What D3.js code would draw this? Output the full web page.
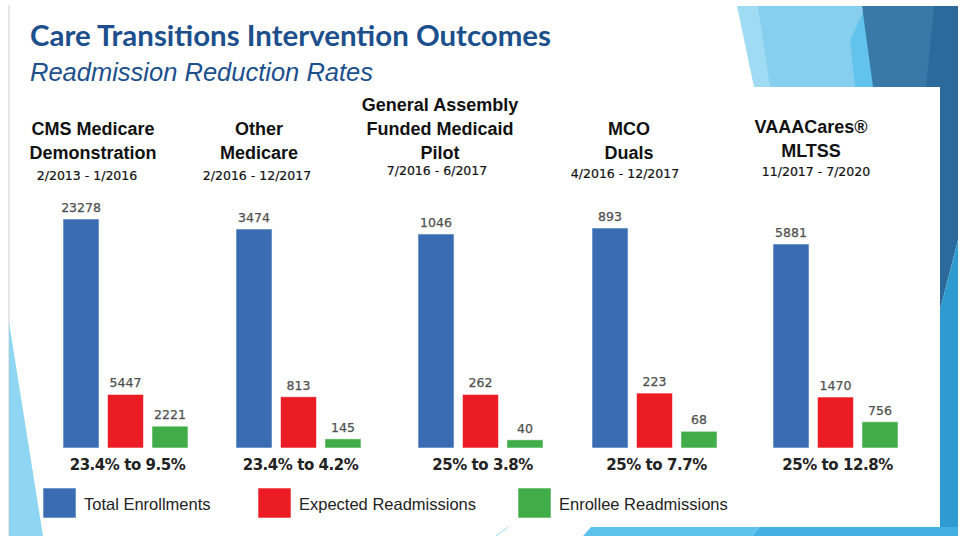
<!DOCTYPE html>
<html>
<head>
<meta charset="utf-8">
<script src="https://cdn.jsdelivr.net/npm/d3@7"></script>
<style>
    body { margin: 0; background: #fff; }
    svg { display: block; }
</style>
</head>
<body>
<div id="slide"></div>
<script>
// chart values
var titleLines = [
    ["CMS Medicare", "Demonstration"],
    ["Other", "Medicare"],
    ["General Assembly", "Funded Medicaid", "Pilot"],
    ["MCO", "Duals"],
    ["VAAACares\u00AE", "MLTSS"]
];
var periods = ["2/2013 - 1/2016", "2/2016 - 12/2017", "7/2016 - 6/2017", "4/2016 - 12/2017", "11/2017 - 7/2020"];
var series = ["Total Enrollments", "Expected Readmissions", "Enrollee Readmissions"];
var totalEnrollments = [23278, 3474, 1046, 893, 5881];
var expectedReadmissions = [5447, 813, 262, 223, 1470];
var enrolleeReadmissions = [2221, 145, 40, 68, 756];
var rateLabels = ["23.4% to 9.5%", "23.4% to 4.2%", "25% to 3.8%", "25% to 7.7%", "25% to 12.8%"];

// layout of the slide (each program has its own bar scale)
var groupLeft = [63, 236, 418, 592, 773];
var groupTop = [219, 229, 234, 228, 244];
var titleX = [93, 259, 440, 629, 811];
var titleY = [135, 135, 111, 135, 133];
var periodX = [87, 257, 437, 625, 816];
var periodY = [180, 180, 175, 178, 176];
var colors = ["#3a6cb4", "#ec1c24", "#40ad48"];

var svgWidth = 962;
var svgHeight = 536;
var baseline = 448;
var clusterWidth = 125;

var svg = d3.select("#slide")
    .append("svg")
    .attr("width", svgWidth)
    .attr("height", svgHeight);

// background decoration
var deco = svg.append("g");
deco.append("line")
    .attr("x1", 9).attr("y1", 5).attr("x2", 9).attr("y2", 536)
    .attr("stroke", "#cfcfcf").attr("stroke-width", 1);

var shapes = [
    { fill: "#9fdbf3", pts: [[737, 6], [762, 6], [777, 87], [754, 87]] },
    { fill: "#87cfee", pts: [[758, 6], [862, 6], [872, 87], [770, 87]] },
    { fill: "#62c4ec", pts: [[850, 40], [866, 6], [874, 87], [855, 87]] },
    { fill: "#3879a8", pts: [[862, 6], [936, 6], [928, 87], [873, 87]] },
    { fill: "#2c6a9c", pts: [[934, 6], [958, 6], [958, 240], [940, 310], [940, 87], [926, 87]] },
    { fill: "#2e9bd0", pts: [[940, 310], [958, 240], [958, 536], [940, 536]] },
    { fill: "#5ec3ec", pts: [[583, 536], [591, 527], [760, 527], [752, 536]] },
    { fill: "#42b0e2", pts: [[752, 536], [760, 527], [958, 527], [958, 536]] }
];
deco.selectAll("polygon.shape")
    .data(shapes)
    .enter()
    .append("polygon")
    .attr("class", "shape")
    .attr("points", d => d.pts.map(p => p.join(",")).join(" "))
    .attr("fill", d => d.fill);

deco.append("line")
    .attr("x1", 496).attr("y1", 536).attr("x2", 508).attr("y2", 527)
    .attr("stroke", "#9fdbf3").attr("stroke-width", 1);

// left wedge
deco.append("polygon")
    .attr("points", "9,322 43,536 9,536")
    .attr("fill", "#8fd6f2");

// titles
svg.append("text")
    .attr("x", 30)
    .attr("y", 46)
    .attr("textLength", 521)
    .attr("lengthAdjust", "spacingAndGlyphs")
    .style("font-family", "Lato, 'Open Sans', sans-serif")
    .style("font-weight", "bold")
    .style("font-size", "28px")
    .style("fill", "#1c4f8c")
    .text("Care Transitions Intervention Outcomes");

svg.append("text")
    .attr("x", 30)
    .attr("y", 81)
    .style("font-family", "'Liberation Sans', Arial, sans-serif")
    .style("font-style", "italic")
    .style("font-size", "25.5px")
    .style("fill", "#1c4f8c")
    .text("Readmission Reduction Rates");

// inner band scale shared by every cluster
var xInner = d3.scaleBand()
    .domain(series)
    .range([0, clusterWidth])
    .paddingInner(0.19)
    .paddingOuter(0);

var groups = titleLines.map(function (lines, i) {
    return {
        lines: lines,
        period: periods[i],
        rate: rateLabels[i],
        values: [totalEnrollments[i], expectedReadmissions[i], enrolleeReadmissions[i]]
    };
});

groups.forEach(function (g, i) {
    var yScale = d3.scaleLinear()
        .domain([0, d3.max(g.values)])
        .range([baseline, groupTop[i]]);

    var cluster = svg.append("g")
        .attr("transform", `translate(${groupLeft[i]}, 0)`);

    cluster.selectAll("rect")
        .data(g.values)
        .enter()
        .append("rect")
        .attr("x", (d, j) => xInner(series[j]))
        .attr("y", d => yScale(d))
        .attr("width", xInner.bandwidth())
        .attr("height", d => baseline - yScale(d))
        .attr("fill", (d, j) => colors[j])
        .attr("stroke", "rgba(255,255,255,0.7)")
        .attr("stroke-width", 0.8);

    cluster.selectAll(".val")
        .data(g.values)
        .enter()
        .append("text")
        .attr("class", "val")
        .attr("x", (d, j) => xInner(series[j]) + xInner.bandwidth() / 2)
        .attr("y", d => yScale(d) - 7)
        .attr("text-anchor", "middle")
        .style("font-family", "'DejaVu Sans', Verdana, sans-serif")
        .style("font-size", "12.5px")
        .style("fill", "#505050")
        .style("stroke", "#505050")
        .style("stroke-width", 0.25)
        .text(d => d);

    cluster.append("text")
        .attr("x", clusterWidth / 2 + 2)
        .attr("y", 470)
        .attr("text-anchor", "middle")
        .style("font-family", "'DejaVu Sans', Verdana, sans-serif")
        .style("font-weight", "bold")
        .style("font-size", "15px")
        .style("letter-spacing", "-0.45px")
        .style("fill", "#222")
        .text(g.rate);

    // program title
    svg.selectAll(".title" + i)
        .data(g.lines)
        .enter()
        .append("text")
        .attr("class", "title" + i)
        .attr("x", titleX[i])
        .attr("y", (d, k) => titleY[i] + k * 24)
        .attr("text-anchor", "middle")
        .style("font-family", "'Liberation Sans', Arial, sans-serif")
        .style("font-weight", "bold")
        .style("font-size", "18px")
        .style("fill", "#111")
        .text(d => d);

    svg.append("text")
        .attr("x", periodX[i])
        .attr("y", periodY[i])
        .attr("text-anchor", "middle")
        .style("font-family", "'DejaVu Sans', Verdana, sans-serif")
        .style("font-size", "12.5px")
        .style("fill", "#111")
        .style("stroke", "#111")
        .style("stroke-width", 0.2)
        .text(g.period);
});

// legend
var legendX = [43, 258, 518];
var legend = svg.selectAll(".legend")
    .data(series)
    .enter()
    .append("g")
    .attr("class", "legend")
    .attr("transform", (d, i) => `translate(${legendX[i]}, 488)`);

legend.append("rect")
    .attr("width", 33)
    .attr("height", 30)
    .attr("fill", (d, i) => colors[i])
    .attr("stroke", "rgba(255,255,255,0.7)")
    .attr("stroke-width", 0.8);

legend.append("text")
    .attr("x", 41)
    .attr("y", 22)
    .style("font-family", "'Liberation Sans', Arial, sans-serif")
    .style("font-size", "16.5px")
    .style("fill", "#222")
    .text(d => d);
</script>
</body>
</html>
